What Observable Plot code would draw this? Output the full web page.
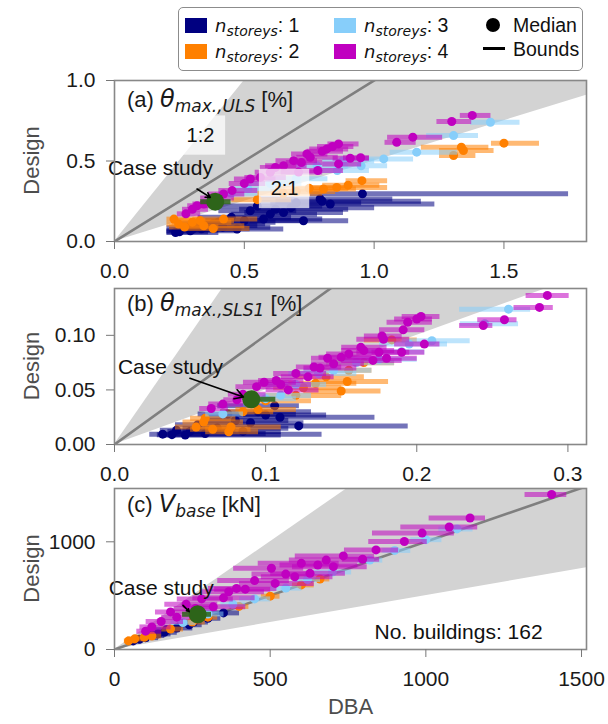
<!DOCTYPE html>
<html><head><meta charset="utf-8">
<script src="https://cdn.jsdelivr.net/npm/d3@7"></script>
<script src="https://cdn.jsdelivr.net/npm/@observablehq/plot@0.6"></script>
<style>
body{margin:0;background:#fff;font-family:'Liberation Sans',Arial,sans-serif;}
#wrap{position:relative;width:608px;height:724px;overflow:hidden;background:#fff;}
.panel{position:absolute;left:0;background:transparent;}
#legend{position:absolute;left:178px;top:7px;width:405px;height:64px;border:1.5px solid #8c8c8c;border-radius:5px;box-sizing:border-box;font-size:19.5px;color:#111;background:#fff;z-index:5;}
.sw{position:absolute;width:22px;height:15px;}
.lt{position:absolute;line-height:1;white-space:nowrap;}
.lt i.n{font-family:'DejaVu Sans',sans-serif;font-size:18px;}
.lt sub{font-size:14px;vertical-align:baseline;position:relative;top:4px;font-style:italic;font-family:'DejaVu Sans',sans-serif;}
</style></head>
<body><div id="wrap"></div>
<script>
// ---------- data: [median DBA, lower bound, upper bound, design] ----------
const storeyLabels = ["1", "2", "3", "4"];
const storeyColors = ["#000080", "#ff8000", "#87cefa", "#c000c0"];
const caseColor = "#2d6419";

// (a) theta max, ULS [%]
const ulsStorey1 = [
  [0.955,0.753,1.747,0.296],[0.831,0.60,1.232,0.233],[0.792,0.55,1.07,0.264],[0.728,0.52,0.90,0.129],
  [0.651,0.50,0.88,0.18],[0.60,0.45,0.78,0.17],[0.523,0.40,0.70,0.191],[0.574,0.42,0.80,0.14],
  [0.472,0.30,0.65,0.077],[0.417,0.28,0.60,0.089],[0.335,0.24,0.52,0.079],[0.292,0.20,0.48,0.067],
  [0.235,0.20,0.40,0.056],[0.40,0.30,0.62,0.12],[0.55,0.38,0.80,0.22],[0.70,0.55,0.95,0.24],
  [0.45,0.32,0.68,0.15],[0.36,0.25,0.55,0.10],[0.27,0.20,0.42,0.085],
  [0.62,0.48,0.90,0.20],[0.68,0.55,1.0,0.21],[0.50,0.35,0.72,0.13],[0.38,0.26,0.58,0.11],
  [0.30,0.21,0.46,0.075],[0.80,0.62,1.18,0.25],[0.25,0.20,0.36,0.06]
];
const ulsStorey2 = [
  [1.50,1.45,1.635,0.611],[1.336,1.18,1.44,0.586],[1.344,1.25,1.46,0.565],[1.306,1.25,1.39,0.534],
  [0.953,0.89,1.05,0.378],[0.856,0.76,1.05,0.336],[0.805,0.70,0.93,0.326],[0.42,0.30,0.55,0.139],
  [0.344,0.25,0.50,0.098],[0.247,0.20,0.35,0.108],[0.229,0.20,0.32,0.139],[0.30,0.22,0.45,0.12],
  [0.38,0.28,0.52,0.08],[0.65,0.55,0.80,0.30],[0.75,0.62,0.90,0.33],
  [0.70,0.60,0.85,0.31],[0.90,0.80,1.02,0.35],[0.55,0.45,0.68,0.26],[0.33,0.24,0.46,0.13],[0.27,0.21,0.40,0.09]
];
const ulsStorey3 = [
  [1.448,1.37,1.56,0.741],[1.306,1.20,1.40,0.658],[1.164,1.06,1.32,0.555],[1.037,0.95,1.15,0.513],
  [0.858,0.78,0.98,0.441],[0.514,0.45,0.62,0.327],[0.95,0.85,1.05,0.47],[0.70,0.60,0.82,0.39],
  [0.60,0.52,0.72,0.36],[0.78,0.70,0.90,0.47],[0.88,0.80,1.0,0.50],[0.45,0.40,0.55,0.30]
];
const ulsStorey4 = [
  [1.378,1.33,1.448,0.783],[1.299,1.24,1.374,0.745],[1.149,1.05,1.262,0.648],[1.087,1.04,1.16,0.616],
  [0.863,0.82,0.94,0.606],[0.84,0.78,0.92,0.59],[0.818,0.75,0.90,0.575],[0.948,0.88,0.98,0.52],
  [0.908,0.84,0.98,0.517],[0.863,0.80,0.95,0.482],[0.754,0.70,0.86,0.523],[0.741,0.68,0.82,0.544],
  [0.69,0.62,0.78,0.502],[0.651,0.58,0.74,0.471],[0.783,0.70,0.88,0.441],[0.709,0.64,0.80,0.431],
  [0.562,0.50,0.66,0.398],[0.523,0.46,0.62,0.388],[0.453,0.40,0.55,0.316],[0.42,0.36,0.50,0.295],
  [0.344,0.30,0.42,0.233],[0.318,0.28,0.40,0.222],[0.275,0.24,0.33,0.172],[0.60,0.54,0.70,0.43],
  [0.80,0.74,0.88,0.56],[0.62,0.56,0.70,0.46],[0.50,0.44,0.58,0.36],[0.38,0.33,0.46,0.27],
  [0.30,0.26,0.36,0.20],[0.72,0.66,0.80,0.49]
];
const ulsCase = [0.388,0.33,0.447,0.247];

// (b) theta max, SLS1 [%]
const slsStorey1 = [
  [0.1219,0.088,0.194,0.017],[0.1095,0.058,0.172,0.025],[0.106,0.068,0.122,0.0354],[0.0319,0.023,0.137,0.0095],
  [0.0468,0.030,0.110,0.0086],[0.060,0.040,0.100,0.010],[0.041,0.030,0.080,0.013],[0.068,0.045,0.115,0.015],
  [0.090,0.060,0.125,0.020],[0.075,0.055,0.120,0.028],[0.095,0.070,0.130,0.030],[0.055,0.040,0.090,0.018],
  [0.085,0.060,0.110,0.012],[0.08,0.06,0.115,0.022],[0.10,0.075,0.14,0.027],[0.05,0.035,0.075,0.012],
  [0.038,0.028,0.06,0.009]
];
const slsStorey2 = [
  [0.1835,0.165,0.200,0.0958],[0.154,0.132,0.181,0.0577],[0.150,0.125,0.176,0.049],[0.133,0.115,0.160,0.056],
  [0.120,0.100,0.150,0.045],[0.077,0.060,0.110,0.016],[0.059,0.045,0.085,0.0205],[0.054,0.040,0.080,0.016],
  [0.0756,0.060,0.095,0.0116],[0.065,0.050,0.090,0.014],[0.155,0.135,0.170,0.068],[0.165,0.140,0.185,0.075],
  [0.095,0.080,0.120,0.032],[0.14,0.12,0.165,0.062],[0.125,0.105,0.15,0.052],[0.10,0.085,0.13,0.040],
  [0.085,0.07,0.105,0.030],[0.06,0.05,0.08,0.024]
];
const slsStorey3 = [
  [0.2607,0.228,0.275,0.124],[0.245,0.2285,0.267,0.1107],[0.195,0.175,0.22,0.092],[0.19,0.165,0.205,0.085],
  [0.175,0.150,0.200,0.078],[0.135,0.115,0.160,0.065],[0.12,0.100,0.140,0.055],[0.0717,0.060,0.085,0.028],
  [0.110,0.095,0.130,0.045],[0.16,0.14,0.185,0.075],[0.145,0.125,0.17,0.068],[0.21,0.19,0.235,0.095],
  [0.10,0.085,0.12,0.042]
];
const slsStorey4 = [
  [0.2864,0.272,0.3005,0.1366],[0.2812,0.264,0.290,0.1256],[0.258,0.240,0.266,0.1143],[0.244,0.228,0.250,0.109],
  [0.2028,0.190,0.215,0.1173],[0.200,0.185,0.210,0.115],[0.194,0.180,0.210,0.112],[0.191,0.175,0.205,0.105],
  [0.177,0.165,0.190,0.0994],[0.178,0.160,0.195,0.0964],[0.205,0.185,0.215,0.092],[0.190,0.170,0.205,0.0845],
  [0.175,0.160,0.195,0.0845],[0.163,0.150,0.180,0.089],[0.155,0.140,0.175,0.083],[0.150,0.135,0.170,0.080],
  [0.141,0.130,0.165,0.079],[0.180,0.165,0.200,0.079],[0.171,0.150,0.190,0.077],[0.136,0.125,0.160,0.070],
  [0.132,0.120,0.150,0.071],[0.128,0.110,0.145,0.062],[0.107,0.095,0.125,0.0586],[0.099,0.085,0.120,0.057],
  [0.094,0.080,0.115,0.053],[0.081,0.072,0.095,0.041],[0.0717,0.062,0.085,0.037],[0.064,0.056,0.075,0.033],
  [0.115,0.100,0.135,0.050],[0.12,0.105,0.14,0.065],[0.145,0.13,0.165,0.074],[0.165,0.15,0.185,0.086],
  [0.11,0.095,0.13,0.055],[0.085,0.075,0.10,0.046]
];
const slsCase = [0.0905,0.085,0.1064,0.0414];

// (c) V base [kN]
const vbStorey1 = [
  [119,90,160,130],[100,70,140,110],[160,120,200,160],[200,160,250,200],[240,200,280,230],
  [300,260,340,290],[350,310,400,340],[140,100,180,145],[167,130,210,184],[254,220,300,255],
  [80,60,110,95],[60,45,85,80]
];
const vbStorey2 = [
  [65,40,90,99],[96,70,130,114],[45,30,70,80],[180,150,220,190],[250,220,290,255],
  [400,370,430,400],[500,470,530,495],[600,570,640,600],[660,630,690,655],[120,100,150,125],[300,270,330,300]
];
const vbStorey3 = [
  [300,250,350,330],[450,400,500,470],[550,500,600,570],[700,640,760,720],[820,780,860,830],
  [1000,950,1050,1020],[1100,1040,1150,1120],[220,180,260,250],[380,340,420,420],[620,580,660,650],[900,860,950,920]
];
const vbStorey4 = [
  [1404,1317,1451,1439],[1142,1009,1190,1221],[1075,918,1165,1137],[988,827,1090,1081],[931,815,1003,1003],
  [840,737,911,925],[797,730,850,838],[735,579,834,869],[703,570,810,769],[653,530,780,785],
  [628,500,740,707],[579,470,700,676],[504,381,606,754],[516,400,640,614],[392,300,520,567],
  [367,280,480,536],[317,230,420,396],[180,130,280,349],[230,160,330,420],[280,200,380,470],
  [450,330,560,640],[600,460,720,800],[680,560,800,830],[150,100,220,260],[120,80,180,210],[350,250,450,480],
  [200,150,280,300],[260,190,330,380],[420,320,500,560],[550,440,640,700],[100,70,150,170]
];
const vbCase = [267,217,310,327];

// axis ticks
const ulsXTicks = [0, 0.5, 1.0, 1.5], ulsYTicks = [0, 0.5, 1.0];
const slsXTicks = [0, 0.1, 0.2, 0.3], slsYTicks = [0, 0.05, 0.10];
const vbXTicks = [0, 500, 1000, 1500], vbYTicks = [0, 1000];

const FONT = "'Liberation Sans', Arial, Helvetica, sans-serif";
const wrap = document.getElementById("wrap");

function buildPanel(cfg) {
  const xmax = cfg.xDomain[1];
  const band = [0, xmax].map(x => ({x, lo: x / 2, hi: x * 2}));
  const marks = [
    Plot.areaY(band, {x: "x", y1: "lo", y2: "hi", fill: "#d3d3d3", clip: true}),
    Plot.line(band, {x: "x", y: "x", stroke: "#7f7f7f", strokeWidth: 2.6, clip: true})
  ];
  cfg.groups.forEach((g, i) => {
    marks.push(Plot.link(g, {x1: d => d[1], x2: d => d[2], y1: d => d[3], y2: d => d[3],
      stroke: storeyColors[i], strokeOpacity: 0.55, strokeWidth: 5, clip: true}));
    marks.push(Plot.dot(g, {x: d => d[0], y: d => d[3], r: 4.5, fill: storeyColors[i], clip: true}));
  });
  const cs = cfg.caseStudy;
  marks.push(Plot.link([cs], {x1: d => d[1], x2: d => d[2], y1: d => d[3], y2: d => d[3],
    stroke: caseColor, strokeOpacity: 0.85, strokeWidth: 5}));
  marks.push(Plot.dot([cs], {x: d => d[0], y: d => d[3], r: 9, fill: caseColor}));
  if (cfg.extra) marks.push(...cfg.extra);
  const a = cfg.arrow;
  marks.push(Plot.arrow([a], {x1: "x1", y1: "y1", x2: "x2", y2: "y2", stroke: "#000", strokeWidth: 1.6, headLength: 9}));
  marks.push(Plot.text([cfg.caseLabel], {x: "x", y: "y", text: "text", fontSize: 21, fill: "#111"}));
  marks.push(Plot.frame({stroke: "#888", strokeWidth: 1.6}));
  marks.push(Plot.axisX({ticks: cfg.xTicks, tickFormat: cfg.xFmt, tickSize: 8, tickPadding: 14, fontSize: 21,
    stroke: "#777", fill: "#1a1a1a", label: null}));
  marks.push(Plot.axisY({ticks: cfg.yTicks, tickFormat: cfg.yFmt, tickSize: 8, tickPadding: 11, fontSize: 21,
    stroke: "#777", fill: "#1a1a1a", label: null}));
  if (cfg.xLabel) marks.push(Plot.text([cfg.xLabel], {frameAnchor: "bottom", dy: 64, text: d => d,
    fontSize: 22, fill: "#4d4d4d"}));

  const svg = Plot.plot({
    width: 608, height: cfg.height,
    marginLeft: 114, marginRight: 22, marginTop: cfg.marginTop, marginBottom: cfg.marginBottom,
    x: {domain: cfg.xDomain}, y: {domain: cfg.yDomain},
    style: {fontFamily: FONT, fontSize: "21px", color: "#1a1a1a", background: "transparent", overflow: "visible"},
    marks
  });
  svg.classList.add("panel");
  svg.style.top = cfg.top + "px";
  const sel = d3.select(svg);
  // y-axis label
  const midY = cfg.marginTop + (cfg.height - cfg.marginTop - cfg.marginBottom) / 2;
  sel.append("text").attr("transform", `translate(31,${midY}) rotate(-90)`)
    .attr("text-anchor", "middle").attr("dy", "0.36em")
    .attr("font-family", FONT).attr("font-size", 22).attr("fill", "#4d4d4d").text("Design");
  // panel title with math-style symbol
  const t = cfg.title;
  const txt = sel.append("text").attr("x", 127).attr("y", cfg.marginTop + cfg.titleDy)
    .attr("text-anchor", "start")
    .attr("font-family", FONT).attr("font-size", 22).attr("fill", "#1a1a1a");
  txt.append("tspan").text(t.prefix);
  txt.append("tspan").attr("font-style", "italic").attr("font-family", "'DejaVu Sans', sans-serif").attr("font-size", 24).text(t.sym);
  txt.append("tspan").attr("font-style", "italic").attr("font-family", "'DejaVu Sans', sans-serif").attr("font-size", 17).attr("dy", 5).text(t.sub);
  txt.append("tspan").attr("dy", -5).text(" " + t.suffix);
  wrap.appendChild(svg);
}

const ratioLabels = [{text: "1:2", x: 0.331, y: 0.658}, {text: "2:1", x: 0.655, y: 0.326}];

buildPanel({
  top: 72, height: 214, marginTop: 8, marginBottom: 45, titleDy: 27,
  xDomain: [0, 1.818], yDomain: [0, 1.0], xTicks: ulsXTicks, yTicks: ulsYTicks,
  xFmt: d3.format(".1f"), yFmt: d3.format(".1f"),
  groups: [ulsStorey1, ulsStorey2, ulsStorey3, ulsStorey4], caseStudy: ulsCase,
  caseLabel: {text: "Case study", x: 0.177, y: 0.452},
  arrow: {x1: 0.318, y1: 0.326, x2: 0.369, y2: 0.274},
  extra: [
    Plot.rect(ratioLabels, {x1: d => d.x - 0.097, x2: d => d.x + 0.097, y1: d => d.y - 0.122, y2: d => d.y + 0.122,
      fill: "white", fillOpacity: 0.72}),
    Plot.text(ratioLabels, {x: "x", y: "y", text: "text", fontSize: 20, fill: "#111"})
  ],
  title: {prefix: "(a) ", sym: "θ", sub: "max.,ULS", suffix: "[%]"}
});

buildPanel({
  top: 280, height: 208, marginTop: 8, marginBottom: 44, titleDy: 23,
  xDomain: [0, 0.3123], yDomain: [0, 0.1429], xTicks: slsXTicks, yTicks: slsYTicks,
  xFmt: d3.format(".1f"), yFmt: d3.format(".2f"),
  groups: [slsStorey1, slsStorey2, slsStorey3, slsStorey4], caseStudy: slsCase,
  caseLabel: {text: "Case study", x: 0.037, y: 0.0711},
  arrow: {x1: 0.0499, y1: 0.0607, x2: 0.0853, y2: 0.0435},
  title: {prefix: "(b) ", sym: "θ", sub: "max.,SLS1", suffix: "[%]"}
});

buildPanel({
  top: 480, height: 244, marginTop: 8, marginBottom: 75, titleDy: 24,
  xDomain: [0, 1516], yDomain: [0, 1495], xTicks: vbXTicks, yTicks: vbYTicks,
  xFmt: d3.format("d"), yFmt: d3.format("d"),
  groups: [vbStorey1, vbStorey2, vbStorey3, vbStorey4], caseStudy: vbCase,
  caseLabel: {text: "Case study", x: 150, y: 566},
  arrow: {x1: 220, y1: 410, x2: 240, y2: 352},
  extra: [Plot.text([{text: "No. buildings: 162", x: 1105, y: 158}], {x: "x", y: "y", text: "text", fontSize: 21, fill: "#111"})],
  xLabel: "DBA",
  title: {prefix: "(c) ", sym: "V", sub: "base", suffix: "[kN]"}
});

// legend
const legend = document.createElement("div");
legend.id = "legend";
const rows = [[0, 6, 10], [1, 6, 36], [2, 155, 10], [3, 155, 36]];
let html = "";
rows.forEach(([i, left, top]) => {
  html += `<div class="sw" style="left:${left}px;top:${top}px;background:${storeyColors[i]}"></div>`;
  html += `<div class="lt" style="left:${left + 30}px;top:${top - 2}px"><i class="n">n</i><sub>storeys</sub>: ${storeyLabels[i]}</div>`;
});
html += `<div style="position:absolute;left:307px;top:10px;width:14px;height:14px;border-radius:50%;background:#000"></div>`;
html += `<div class="lt" style="left:334px;top:8px">Median</div>`;
html += `<div style="position:absolute;left:304px;top:39px;width:22px;height:3px;background:#000"></div>`;
html += `<div class="lt" style="left:334px;top:32px">Bounds</div>`;
legend.innerHTML = html;
wrap.appendChild(legend);
</script>
</body></html>
